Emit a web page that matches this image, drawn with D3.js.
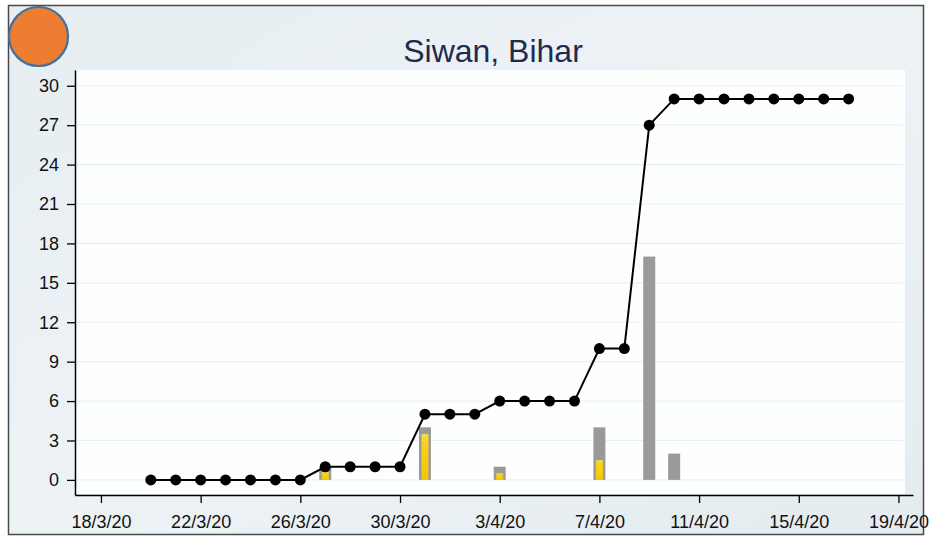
<!doctype html>
<html>
<head>
<meta charset="UTF-8">
<title>Siwan, Bihar</title>
<script src="https://cdn.jsdelivr.net/npm/d3@7"></script>
<style>
  body { margin: 0; background: #fff; }
  svg text { font-family: "Liberation Sans", Arial, sans-serif; }
</style>
</head>
<body>
<svg id="chart" width="933" height="537"></svg>
<script>
// cumulative cases, one point per day from 20/3/20
var cumDates = ["2020-03-20","2020-03-21","2020-03-22","2020-03-23","2020-03-24","2020-03-25","2020-03-26",
  "2020-03-27","2020-03-28","2020-03-29","2020-03-30","2020-03-31","2020-04-01","2020-04-02","2020-04-03",
  "2020-04-04","2020-04-05","2020-04-06","2020-04-07","2020-04-08","2020-04-09","2020-04-10","2020-04-11",
  "2020-04-12","2020-04-13","2020-04-14","2020-04-15","2020-04-16","2020-04-17"];
var cumValues = [0,0,0,0,0,0,0,1,1,1,1,5,5,5,6,6,6,6,10,10,27,29,29,29,29,29,29,29,29];

// daily new cases (grey) and inner yellow bars
var newDates = ["2020-03-27","2020-03-31","2020-04-03","2020-04-07","2020-04-09","2020-04-10"];
var newValues = [1,4,1,4,17,2];
var yellowDates = ["2020-03-27","2020-03-31","2020-04-03","2020-04-07"];
var yellowValues = [0.6,3.5,0.5,1.5];

var xTickDates = ["2020-03-18","2020-03-22","2020-03-26","2020-03-30","2020-04-03","2020-04-07","2020-04-11","2020-04-15","2020-04-19"];
var yTicks = [0,3,6,9,12,15,18,21,24,27,30];
var title = "Siwan, Bihar";

var parse = d3.utcParse("%Y-%m-%d");
var fmt = d3.utcFormat("%-d/%-m/%y");

var svg = d3.select("#chart");
var defs = svg.append("defs");

var bg = defs.append("linearGradient").attr("id", "bg").attr("x1", 0).attr("y1", 0).attr("x2", 1).attr("y2", 1);
bg.append("stop").attr("offset", "0%").attr("stop-color", "#e6eef2");
bg.append("stop").attr("offset", "50%").attr("stop-color", "#edf2f5");
bg.append("stop").attr("offset", "100%").attr("stop-color", "#e4ecf0");

var yg = defs.append("linearGradient").attr("id", "yel").attr("x1", 0).attr("y1", 0).attr("x2", 0).attr("y2", 1);
yg.append("stop").attr("offset", "0%").attr("stop-color", "#e9e24a");
yg.append("stop").attr("offset", "18%").attr("stop-color", "#f8d31c");
yg.append("stop").attr("offset", "100%").attr("stop-color", "#f2c60a");

// panel
svg.append("rect").attr("x", 8.5).attr("y", 5.5).attr("width", 915).attr("height", 529)
  .attr("fill", "url(#bg)").attr("stroke", "#4a4a4a").attr("stroke-width", 1.5);

var x = d3.scaleUtc()
  .domain([d3.utcHour.offset(parse("2020-03-18"), -25), d3.utcHour.offset(parse("2020-04-19"), 14.5)])
  .range([75, 913]);
var y = d3.scaleLinear().domain([-1.15, 31.2]).range([495, 70]);

// white plot area
svg.append("rect").attr("x", 76).attr("y", 70).attr("width", 829).attr("height", 424).attr("fill", "#fdfefe");

// grid
svg.append("g").selectAll("line").data(yTicks).enter().append("line")
  .attr("x1", 77).attr("x2", 903)
  .attr("y1", function(d) { return y(d); }).attr("y2", function(d) { return y(d); })
  .attr("stroke", "#eceff1").attr("stroke-width", 1.2);

// bars
var bw = 12, yw = 7;
svg.append("g").selectAll("rect").data(newDates.map(function(d, i) { return {date: parse(d), v: newValues[i]}; }))
  .enter().append("rect")
  .attr("x", function(d) { return x(d.date) - bw / 2; })
  .attr("y", function(d) { return y(d.v); })
  .attr("width", bw)
  .attr("height", function(d) { return y(0) - y(d.v); })
  .attr("fill", "#9a9a9a");

svg.append("g").selectAll("rect").data(yellowDates.map(function(d, i) { return {date: parse(d), v: yellowValues[i]}; }))
  .enter().append("rect")
  .attr("x", function(d) { return x(d.date) - yw / 2; })
  .attr("y", function(d) { return y(d.v); })
  .attr("width", yw)
  .attr("height", function(d) { return y(0) - y(d.v); })
  .attr("fill", "url(#yel)");

// cumulative line
var pts = cumDates.map(function(d, i) { return {date: parse(d), v: cumValues[i]}; });
var line = d3.line().x(function(d) { return x(d.date); }).y(function(d) { return y(d.v); });
svg.append("path").datum(pts).attr("d", line)
  .attr("fill", "none").attr("stroke", "#000").attr("stroke-width", 2);
svg.append("g").selectAll("circle").data(pts).enter().append("circle")
  .attr("cx", function(d) { return x(d.date); })
  .attr("cy", function(d) { return y(d.v); })
  .attr("r", 5.5).attr("fill", "#000");

// axes
var xAxis = svg.append("g").attr("transform", "translate(0,495)")
  .call(d3.axisBottom(x).tickValues(xTickDates.map(parse)).tickFormat(fmt).tickSize(8).tickSizeOuter(0));
var yAxis = svg.append("g").attr("transform", "translate(75,0)")
  .call(d3.axisLeft(y).tickValues(yTicks).tickSize(8).tickSizeOuter(0));

[xAxis, yAxis].forEach(function(a) {
  a.select(".domain").attr("stroke", "#000").attr("stroke-width", 1.5);
  a.selectAll(".tick line").attr("stroke", "#000").attr("stroke-width", 1.3);
  a.selectAll("text").attr("font-size", 18).attr("fill", "#111")
    .style("font-family", "'Liberation Sans', Arial, sans-serif");
});
xAxis.selectAll("text").attr("dy", null).attr("y", 33);
yAxis.selectAll("text").attr("x", -16);

// title
svg.append("text").attr("x", 493).attr("y", 62).attr("text-anchor", "middle")
  .attr("font-size", 32).attr("fill", "#1f2b4d").text(title);

// badge
svg.append("circle").attr("cx", 38.5).attr("cy", 36.5).attr("r", 29.5)
  .attr("fill", "#ed7d31").attr("stroke", "#41719c").attr("stroke-width", 2.2);
</script>
</body>
</html>
